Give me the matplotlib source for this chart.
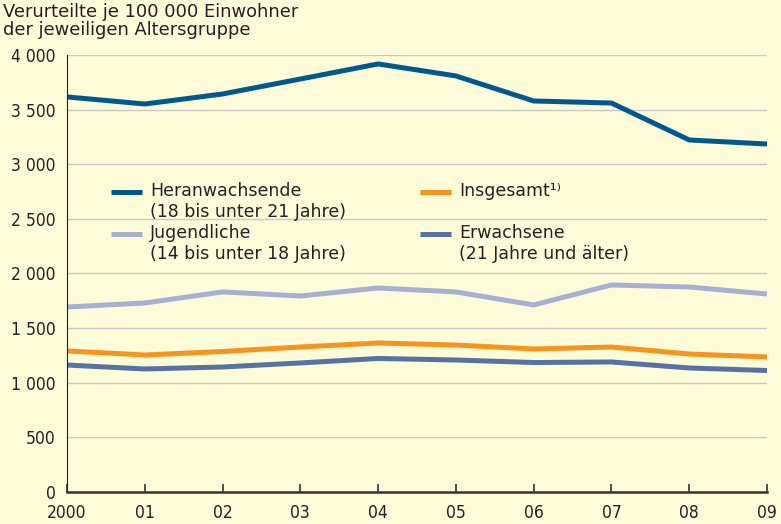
import matplotlib
matplotlib.use("Agg")
import matplotlib.pyplot as plt
from matplotlib.ticker import FuncFormatter
from matplotlib.legend_handler import HandlerLine2D

years = [2000, 2001, 2002, 2003, 2004, 2005, 2006, 2007, 2008, 2009]
year_labels = ["2000", "01", "02", "03", "04", "05", "06", "07", "08", "09"]

heranwachsende = [3616, 3551, 3643, 3780, 3918, 3808, 3579, 3560, 3222, 3185]
jugendliche = [1693, 1730, 1831, 1794, 1867, 1831, 1712, 1895, 1876, 1812]
insgesamt = [1291, 1254, 1286, 1327, 1364, 1345, 1309, 1327, 1263, 1236]
erwachsene = [1162, 1126, 1144, 1181, 1222, 1208, 1185, 1190, 1135, 1112]

bg = "#fefcd8"


# legend handle next to the first line of a two-line label
class TopLine(HandlerLine2D):
    def create_artists(self, legend, orig_handle, xdescent, ydescent, width, height, fontsize, trans):
        arts = super().create_artists(legend, orig_handle, xdescent, ydescent, width, height, fontsize, trans)
        for a in arts:
            a.set_ydata([y + fontsize * 0.62 for y in a.get_ydata()])
        return arts


fig = plt.figure(figsize=(7.81, 5.24), dpi=100, facecolor=bg)
ax = fig.add_axes([0.0858, 0.0611, 0.8963, 0.834], facecolor=bg)

ax.plot(years, heranwachsende, color="#00588e", lw=3.6, solid_capstyle="butt",
        label="Heranwachsende\n(18 bis unter 21 Jahre)")
ax.plot(years, jugendliche, color="#a7b0d2", lw=3.6, solid_capstyle="butt",
        label="Jugendliche\n(14 bis unter 18 Jahre)")
ax.plot(years, insgesamt, color="#f7941d", lw=3.6, solid_capstyle="butt",
        label="Insgesamt\u00b9\u207e\n ")
ax.plot(years, erwachsene, color="#5572a2", lw=3.6, solid_capstyle="butt",
        label="Erwachsene\n(21 Jahre und \u00e4lter)")

ax.set_xlim(2000, 2009)
ax.set_ylim(0, 4000)
ax.set_yticks(range(0, 4001, 500))
ax.yaxis.set_major_formatter(FuncFormatter(lambda v, p: f"{int(v):,}".replace(",", " ")))
ax.set_xticks(years)
ax.set_xticklabels(year_labels)

ax.grid(axis="y", color="#c8c8c8", lw=1)
ax.set_axisbelow(True)
for s in ["top", "right"]:
    ax.spines[s].set_visible(False)
ax.spines["left"].set_color("#222222")
ax.spines["bottom"].set_color("#333333")
ax.spines["bottom"].set_linewidth(1.8)
ax.tick_params(axis="y", length=0, pad=8, labelsize=12.5, colors="#222222")
ax.tick_params(axis="x", direction="in", length=6, width=1.2, pad=9, labelsize=12.5,
               colors="#333333", labelcolor="#222222")
for lab in ax.get_xticklabels() + ax.get_yticklabels():
    lab.set_fontstretch("condensed")

leg = ax.legend(ncol=2, loc="upper left", bbox_to_anchor=(0.053, 0.725), frameon=False,
                fontsize=12.5, handlelength=1.8, handletextpad=0.45, columnspacing=4.27,
                labelspacing=0.2, borderaxespad=0,
                handler_map={matplotlib.lines.Line2D: TopLine()})
for t in leg.get_texts():
    t.set_color("#222222")

fig.text(0.004, 0.995, "Verurteilte je 100 000 Einwohner\nder jeweiligen Altersgruppe",
         ha="left", va="top", fontsize=12.9, color="#222222", linespacing=1.0)

fig.savefig("out.png", dpi=100, facecolor=bg)
